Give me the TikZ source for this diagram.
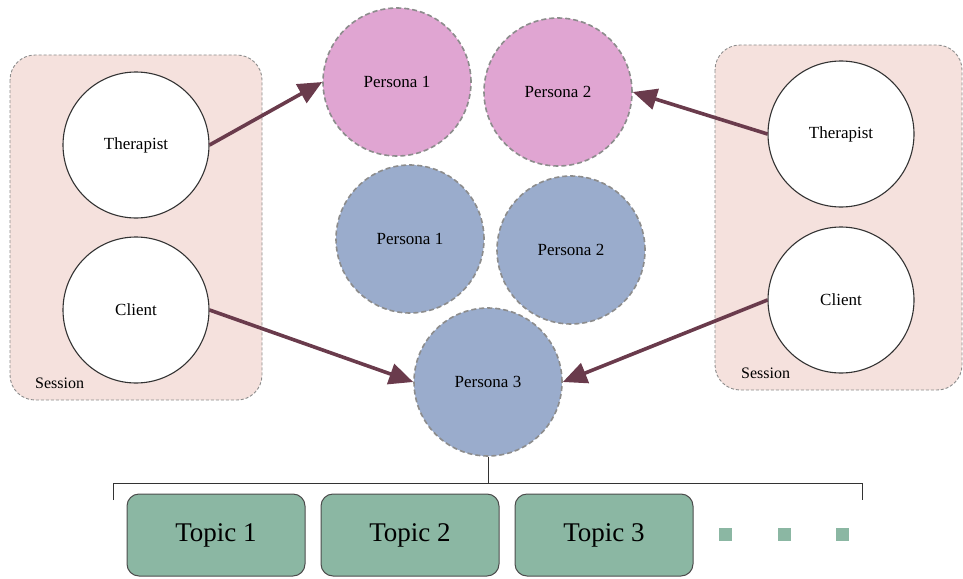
\documentclass[tikz,border=0pt]{standalone}
\usepackage{fontspec}
\setmainfont{Liberation Serif}
\usetikzlibrary{arrows.meta}
\definecolor{sessfill}{HTML}{F5E1DD}
\definecolor{pinkfill}{HTML}{E0A5D2}
\definecolor{bluefill}{HTML}{9AACCC}
\definecolor{topicfill}{HTML}{8BB7A3}
\definecolor{arrcol}{HTML}{6A3B4C}
\definecolor{dashgray}{HTML}{8C8C8C}
\tikzset{
  session/.style={fill=sessfill, draw=dashgray, dash pattern=on 3pt off 2pt, line width=0.9pt, rounded corners=25pt},
  role/.style={circle, draw=black!80, line width=1.1pt, fill=white, minimum size=146pt, inner sep=0pt, font=\fontsize{17}{19}\selectfont},
  persona/.style={circle, draw=dashgray, dash pattern=on 5pt off 3pt, line width=1.6pt, minimum size=148pt, inner sep=0pt, font=\fontsize{17}{19}\selectfont},
  pinkp/.style={persona, fill=pinkfill},
  bluep/.style={persona, fill=bluefill},
  arr/.style={-{Triangle[length=24pt,width=21pt]}, line width=3.6pt, draw=arrcol},
  topic/.style={rectangle, rounded corners=12pt, draw=black!70, line width=1pt, fill=topicfill, minimum width=178pt, minimum height=82pt, font=\fontsize{27}{30}\selectfont},
  dot/.style={rectangle, fill=topicfill, minimum size=13pt, inner sep=0pt},
  sesslabel/.style={font=\fontsize{16}{18}\selectfont, anchor=west, inner sep=0pt}
}
\begin{document}
\begin{tikzpicture}[x=1pt,y=-1pt]
\useasboundingbox (0,0) rectangle (963,578);
% session boxes
\draw[session] (10,55) rectangle (262,400);
\draw[session] (715,45) rectangle (962,390);
\node[sesslabel] (sl) at (35,383) {Session};
\node[sesslabel] (sr) at (741,373) {Session};
% role circles
\node[role] (lt) at (136,145) {Therapist};
\node[role] (lc) at (136,310) {Client};
\node[role] (rt) at (841,134) {Therapist};
\node[role] (rc) at (841,300) {Client};
% personas
\node[pinkp] (pp1) at (397,82) {Persona 1};
\node[pinkp] (pp2) at (558,92) {Persona 2};
\node[bluep] (bp1) at (410,239) {Persona 1};
\node[bluep] (bp2) at (571,250) {Persona 2};
\node[bluep] (bp3) at (488,382) {Persona 3};
% arrows
\draw[arr] (lt.east) -- (pp1.west);
\draw[arr] (lc.east) -- (bp3.west);
\draw[arr] (rt.west) -- (pp2.east);
\draw[arr] (rc.west) -- (bp3.east);
% bracket
\coordinate (bl) at (113,483);
\coordinate (br) at (862,483);
\coordinate (bld) at (113,500);
\coordinate (brd) at (862,500);
\draw[line width=1pt, black!80] (bld) -- (bl) -- (br) -- (brd);
\draw[line width=1pt, black!80] (bp3.south) -- (bp3.south |- bl);
% topics
\node[topic] (t1) at (216,535) {Topic 1};
\node[topic] (t2) at (410,535) {Topic 2};
\node[topic] (t3) at (604,535) {Topic 3};
\node[dot] (d1) at (725,534) {};
\node[dot] (d2) at (784,534) {};
\node[dot] (d3) at (842,534) {};
\end{tikzpicture}
\end{document}
